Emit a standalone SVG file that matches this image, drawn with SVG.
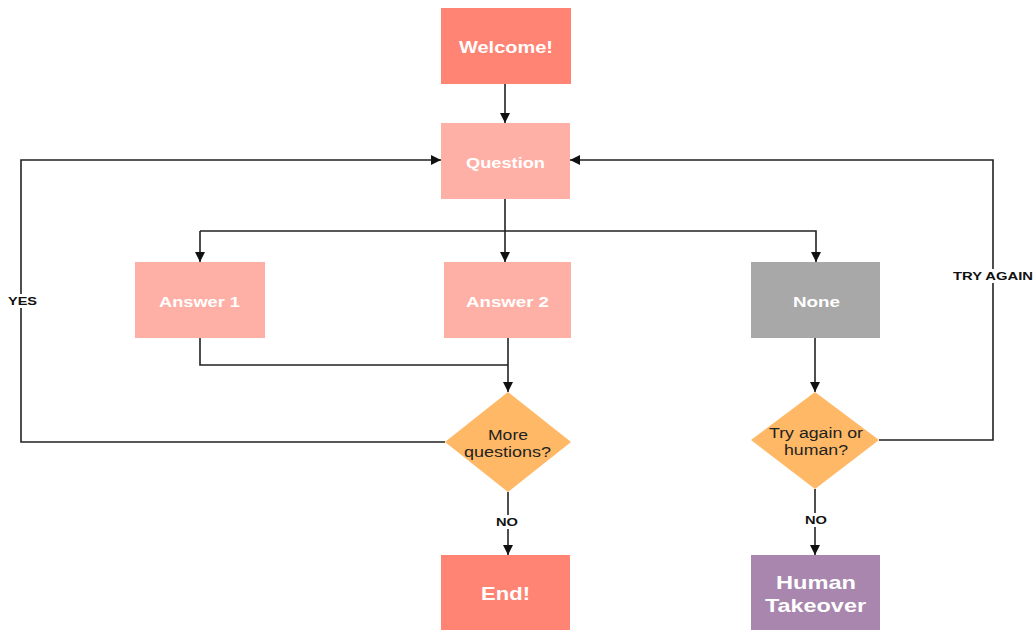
<svg xmlns="http://www.w3.org/2000/svg" width="1034" height="630" viewBox="0 0 1034 630">
<defs>
<marker id="ah" viewBox="0 0 10 10" refX="10" refY="5" markerWidth="10" markerHeight="10" markerUnits="userSpaceOnUse" orient="auto">
<path d="M0,0 L10,5 L0,10 z" fill="#111"/>
</marker>
<style>
.c{fill:none;stroke:#222;stroke-width:1.6}
.a{marker-end:url(#ah)}
.t{font-family:"Liberation Sans",Arial,sans-serif;font-weight:bold;fill:#fff;text-anchor:middle;dominant-baseline:central}
.d{font-family:"Liberation Sans",Arial,sans-serif;fill:#222;text-anchor:middle;font-size:14px}
.l{font-family:"Liberation Sans",Arial,sans-serif;font-weight:bold;fill:#111;text-anchor:middle;dominant-baseline:central;font-size:11px}
.lb{fill:#fff}
</style>
</defs>
<rect width="1034" height="630" fill="#fff"/>
<g id="connectors">
<path class="c a" d="M505,84 V123"/>
<path class="c a" d="M505,199 V262"/>
<path class="c a" d="M200,231 H816 V262"/>
<path class="c a" d="M200,231 V262"/>
<path class="c" d="M200,338 V365 H508"/>
<path class="c a" d="M508,338 V392"/>
<path class="c a" d="M445,442 H21 V160 H441"/>
<path class="c a" d="M508,492 V555"/>
<path class="c a" d="M815,338 V392"/>
<path class="c a" d="M879,440 H993 V160 H570"/>
<path class="c a" d="M815,489 V555"/>
<rect class="lb" x="6" y="294" width="33" height="14"/>
<text class="l" x="22.5" y="301" textLength="29" lengthAdjust="spacingAndGlyphs">YES</text>
<rect class="lb" x="951" y="269" width="83" height="14"/>
<text class="l" x="993" y="276" textLength="80" lengthAdjust="spacingAndGlyphs">TRY AGAIN</text>
<rect class="lb" x="493" y="515" width="29" height="14"/>
<text class="l" x="507" y="522" textLength="22" lengthAdjust="spacingAndGlyphs">NO</text>
<rect class="lb" x="802" y="513" width="27" height="14"/>
<text class="l" x="816" y="520" textLength="22" lengthAdjust="spacingAndGlyphs">NO</text>
</g>
<g id="welcome"><rect x="441" y="8" width="130" height="76" fill="#FF8474"/><text class="t" x="506" y="47" font-size="16" textLength="94" lengthAdjust="spacingAndGlyphs">Welcome!</text></g>
<g id="question"><rect x="441" y="123" width="129" height="76" fill="#FFB0A6"/><text class="t" x="505.5" y="162" font-size="15" textLength="79" lengthAdjust="spacingAndGlyphs">Question</text></g>
<g id="answer1"><rect x="135" y="262" width="130" height="76" fill="#FFB0A6"/><text class="t" x="199.5" y="301" font-size="15" textLength="81" lengthAdjust="spacingAndGlyphs">Answer 1</text></g>
<g id="answer2"><rect x="444" y="262" width="127" height="76" fill="#FFB0A6"/><text class="t" x="507.5" y="301" font-size="15" textLength="83" lengthAdjust="spacingAndGlyphs">Answer 2</text></g>
<g id="none"><rect x="751" y="262" width="129" height="76" fill="#A8A8A8"/><text class="t" x="816.5" y="301" font-size="15" textLength="47" lengthAdjust="spacingAndGlyphs">None</text></g>
<g id="more"><polygon points="508,392 571,442 508,492 445,442" fill="#FFB865"/><text class="d" x="508" y="440" textLength="40" lengthAdjust="spacingAndGlyphs">More</text><text class="d" x="507.5" y="457" textLength="87" lengthAdjust="spacingAndGlyphs">questions?</text></g>
<g id="tryagain"><polygon points="815,392 879,440 815,489 751,440" fill="#FFB865"/><text class="d" x="816" y="438" textLength="94" lengthAdjust="spacingAndGlyphs">Try again or</text><text class="d" x="816" y="455" textLength="64" lengthAdjust="spacingAndGlyphs">human?</text></g>
<g id="end"><rect x="441" y="555" width="129" height="75" fill="#FF8474"/><text class="t" x="505.5" y="593" font-size="19" textLength="49" lengthAdjust="spacingAndGlyphs">End!</text></g>
<g id="human"><rect x="751" y="555" width="129" height="75" fill="#A886AE"/><text class="t" x="816" y="582" font-size="19" textLength="80" lengthAdjust="spacingAndGlyphs">Human</text><text class="t" x="815.5" y="605" font-size="19" textLength="101" lengthAdjust="spacingAndGlyphs">Takeover</text></g>
</svg>
